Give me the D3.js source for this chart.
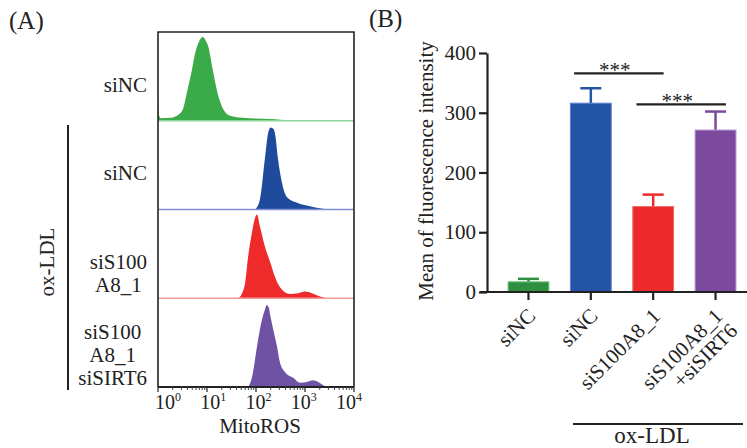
<!DOCTYPE html>
<html><head><meta charset="utf-8">
<script src="https://cdn.jsdelivr.net/npm/d3@7"></script>
<style>
body{margin:0;background:#fff}
text{font-family:"Liberation Serif","Times New Roman",serif;fill:#222}
</style></head>
<body><svg id="c" width="747" height="448"></svg>
<script>
// ---------- Panel A data: histograms [log10(MitoROS), relative count] ----------
const histNames = [["siNC"], ["siNC"], ["siS100", "A8_1"], ["siS100", "A8_1", "siSIRT6"]];
const histColors = ["#3aab48", "#1e4b9c", "#ee2a2a", "#7052a4"];
const histBase = ["#8fd596", "#7f8ed8", "#f39a9a", "#222"];
const histGreen = [[0,26],[0.02,7],[0.06,3],[0.245,3.5],[0.41,7],[0.51,14],[0.61,39],[0.69,60],[0.755,80],[0.84,95],[0.92,100],[0.98,95],[1.02,90],[1.12,60],[1.22,32],[1.33,14],[1.47,6],[1.73,3.5],[2.29,2],[2.7,0.5],[4,0]];
const histBlue = [[1.98,0],[2.08,12],[2.18,60],[2.25,92],[2.3,98],[2.36,96],[2.39,90],[2.45,60],[2.53,32],[2.63,15],[2.84,8],[3.1,4],[3.37,1],[3.5,0]];
const histRed = [[1.63,0],[1.71,5],[1.78,19],[1.84,50],[1.92,79],[1.98,96],[2.02,100],[2.08,86],[2.18,62],[2.29,43],[2.39,25],[2.49,13],[2.69,5],[2.86,6],[3.0,8],[3.14,6],[3.31,2],[3.45,0]];
const histPurple = [[1.84,0],[1.92,12],[2.02,48],[2.12,80],[2.18,92],[2.22,98],[2.26,95],[2.3,83],[2.37,64],[2.43,48],[2.49,29],[2.59,18],[2.76,11],[2.9,5],[3.04,6],[3.16,8],[3.27,6],[3.41,1],[3.47,0]];
const hists = [histGreen, histBlue, histRed, histPurple];
const logTicks = [0, 1, 2, 3, 4];

// ---------- Panel B data ----------
const barCats = ["siNC", "siNC", "siS100A8_1", "siS100A8_1\n+siSIRT6"];
const barMeans = [17, 316, 143, 271];
const barErrs = [5, 25, 20, 31];
const barColors = ["#2f8f40", "#2454a4", "#ec2a2b", "#7b4a9d"];
const barStroke = ["#6cc07a", "#5a7fd0", "#f06a6a", "#b08ad0"];
const yTicks = [0, 100, 200, 300, 400];
const sigPairs = [[1, 2, 366], [2, 3, 314]];
const sigLabel = "***";

const svg = d3.select("#c");
const FS = 21;

// ================= Panel A =================
const A = {l: 158, r: 354, t: 32, b: 387};
const xA = d3.scaleLinear().domain([0, 4]).range([A.l, A.r]);
const ph = (A.b - A.t) / 4;
const gA = svg.append("g");
svg.append("defs").append("clipPath").attr("id","clipA")
  .append("rect").attr("x",A.l).attr("y",A.t).attr("width",A.r-A.l).attr("height",A.b-A.t);

hists.forEach((h, i) => {
  const bot = A.t + ph * (i + 1);
  const yA = d3.scaleLinear().domain([0, 106]).range([bot, bot - ph]);
  const area = d3.area().x(d => xA(d[0])).y0(bot).y1(d => yA(d[1])).curve(d3.curveMonotoneX);
  gA.append("path").datum(h).attr("d", area).attr("fill", histColors[i]).attr("clip-path","url(#clipA)");
  if (i < 3) gA.append("line").attr("x1", A.l).attr("x2", A.r).attr("y1", bot).attr("y2", bot)
    .attr("stroke", histBase[i]).attr("stroke-width", 1.3);
  const firstBase = i < 3 ? 59.5 : 41;
  const lt = gA.append("text").attr("font-size", FS).attr("text-anchor", "middle");
  histNames[i].forEach((s, k) => lt.append("tspan").attr("x", 0).attr("y", bot - ph + firstBase + k * 23).text(s));
  const bb = lt.node().getBBox();
  lt.attr("transform", `translate(${147 - (bb.x + bb.width)},0)`);
});

gA.append("path").attr("d", `M${A.l},${A.b}V${A.t}H${A.r}V${A.b}`).attr("fill","none").attr("stroke","#222").attr("stroke-width",1.6);
gA.append("line").attr("x1",A.l).attr("x2",A.r).attr("y1",A.b).attr("y2",A.b).attr("stroke","#222").attr("stroke-width",1.8);
const minor = [];
for (let d = 0; d < 4; d++) for (let m = 2; m <= 9; m++) minor.push(d + Math.log10(m));
gA.selectAll(".mt").data(minor).join("line").attr("x1", d => xA(d)).attr("x2", d => xA(d))
  .attr("y1", A.b).attr("y2", A.b + 3).attr("stroke","#444").attr("stroke-width",1);
gA.selectAll(".Mt").data(logTicks).join("line").attr("x1", d => xA(d)).attr("x2", d => xA(d))
  .attr("y1", A.b).attr("y2", A.b + 5).attr("stroke","#222").attr("stroke-width",1.2);
const lblX = d3.scaleLinear().domain([0, 4]).range([168, 349]);
logTicks.forEach(v => {
  const t = gA.append("text").attr("x", lblX(v)).attr("y", 409).attr("font-size", 20).attr("text-anchor","middle");
  t.append("tspan").text("10");
  t.append("tspan").attr("font-size", 12).attr("dy", -8).text(v);
});
gA.append("text").attr("x", 260).attr("y", 433).attr("font-size", FS).attr("text-anchor","middle").text("MitoROS");
gA.append("line").attr("x1",68).attr("x2",68).attr("y1",125).attr("y2",390).attr("stroke","#222").attr("stroke-width",2);
gA.append("text").attr("transform","translate(54,262) rotate(-90)").attr("font-size", FS).attr("text-anchor","middle").text("ox-LDL");
svg.append("text").attr("x", 9).attr("y", 29).attr("font-size", 25).text("(A)");
svg.append("text").attr("x", 369).attr("y", 27).attr("font-size", 25).text("(B)");

// ================= Panel B =================
const B = {l: 487, b: 292, t: 53};
const yB = d3.scaleLinear().domain([0, 400]).range([B.b, B.t]);
const xB = d3.scaleBand().domain(d3.range(barCats.length)).range([487, 757]).paddingInner(0.33).paddingOuter(0.33);
const gB = svg.append("g");
const bw = xB.bandwidth();

barMeans.forEach((m, i) => {
  const cx = xB(i) + bw / 2;
  gB.append("line").attr("x1", cx).attr("x2", cx).attr("y1", yB(m)).attr("y2", yB(m + barErrs[i]))
    .attr("stroke", barColors[i]).attr("stroke-width", 2.5);
  gB.append("line").attr("x1", cx - 10.5).attr("x2", cx + 10.5).attr("y1", yB(m + barErrs[i])).attr("y2", yB(m + barErrs[i]))
    .attr("stroke", barColors[i]).attr("stroke-width", 2.5);
  gB.append("rect").attr("x", xB(i) + 0.5).attr("y", yB(m)).attr("width", bw - 1).attr("height", B.b - yB(m))
    .attr("fill", barColors[i]).attr("stroke", barStroke[i]).attr("stroke-width", 1);
});

const yAx = gB.append("g").attr("transform", `translate(${B.l},0)`)
  .call(d3.axisLeft(yB).tickValues(yTicks).tickSize(8).tickSizeOuter(0));
yAx.select(".domain").attr("stroke","#222").attr("stroke-width",2.2);
yAx.selectAll(".tick line").attr("stroke","#222").attr("stroke-width",2.2);
yAx.selectAll(".tick text").attr("font-size", FS).attr("font-family","Liberation Serif").attr("fill","#222").attr("x",-11);
gB.append("line").attr("x1", 480).attr("x2", 747).attr("y1", B.b).attr("y2", B.b).attr("stroke","#222").attr("stroke-width",2.2);
barCats.forEach((c, i) => {
  const cx = xB(i) + bw / 2;
  gB.append("line").attr("x1", cx).attr("x2", cx).attr("y1", B.b).attr("y2", B.b + 8).attr("stroke","#222").attr("stroke-width",2.2);
  const t = gB.append("text").attr("transform", `translate(${cx + 3},${B.b + 20}) rotate(-45)`)
    .attr("font-size", FS).attr("text-anchor","end");
  c.split("\n").forEach((s, k) => t.append("tspan").attr("x", 0).attr("dy", k ? "1.0em" : "0.35em").text(s));
});
gB.append("text").attr("transform","translate(433,171) rotate(-90)").attr("font-size", FS).attr("text-anchor","middle")
  .text("Mean of fluorescence intensity");

sigPairs.forEach(([a, b, v]) => {
  const x1 = xB(a) + bw * 0.1, x2 = xB(b) + bw * 0.75;
  gB.append("line").attr("x1", x1).attr("x2", x2).attr("y1", yB(v)).attr("y2", yB(v)).attr("stroke","#222").attr("stroke-width",2.2);
  gB.append("text").attr("x", (x1 + x2) / 2 - 4).attr("y", yB(v) + 4).attr("font-size", FS).attr("text-anchor","middle").text(sigLabel);
});

gB.append("line").attr("x1", 573).attr("x2", 743).attr("y1", 424).attr("y2", 424).attr("stroke","#222").attr("stroke-width",2.2);
gB.append("text").attr("x", 652).attr("y", 443).attr("font-size", 23).attr("text-anchor","middle").text("ox-LDL");
</script></body></html>
